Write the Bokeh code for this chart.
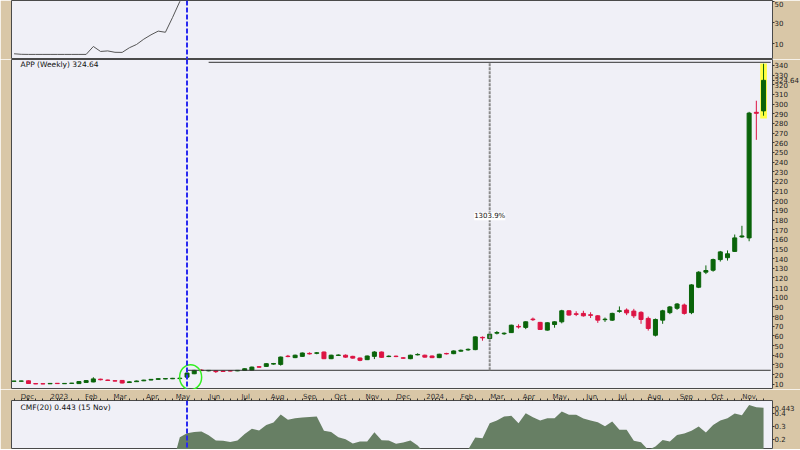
import pandas as pd
from bokeh.plotting import figure
from bokeh.layouts import column
from bokeh.models import Range1d, FixedTicker, Span, Label, LinearAxis
from bokeh.embed import file_html
from bokeh.resources import INLINE

# ---------------- data ----------------
FIRST_WEEK = "2022-11-18"
TICKER = "APP"
OPEN = [13.0, 13.1, 13.5, 10.6, 10.5, 10.4, 10.9, 10.5, 10.8, 10.6,
        11.8, 12.3, 15.2, 14.3, 13.6, 13.9, 11.7, 12.6, 13.5, 14.3,
        15.0, 15.4, 15.6, 15.8, 17.3, 20.8, 24.6, 23.8, 23.8, 23.6,
        24.0, 23.8, 24.3, 24.5, 28.1, 28.4, 30.8, 30.5, 39.0, 37.5,
        38.8, 41.9, 42.0, 43.3, 36.4, 39.8, 40.0, 38.8, 37.1, 35.4,
        38.8, 43.3, 38.6, 39.0, 37.3, 36.4, 40.4, 40.0, 39.2, 37.5,
        41.8, 41.6, 44.2, 45.5, 45.8, 58.5, 57.3, 62.8, 62.2, 63.4,
        69.8, 68.8, 77.4, 74.0, 66.0, 71.8, 74.6, 86.0, 82.9, 83.3,
        81.9, 80.8, 76.8, 76.3, 85.4, 86.8, 85.7, 84.4, 78.1, 60.7,
        76.3, 84.1, 88.6, 92.0, 84.1, 110.4, 126.0, 128.0, 139.0, 141.0,
        147.5, 162.5, 161.5, 291.5, 293.0]
HIGH = [13.4, 13.5, 13.9, 10.9, 10.8, 11.0, 11.2, 11.0, 11.3, 12.9,
        14.2, 17.2, 15.6, 14.7, 14.0, 14.3, 12.8, 13.7, 14.6, 15.4,
        16.0, 16.2, 16.5, 16.6, 22.0, 24.8, 25.3, 24.7, 24.3, 24.2,
        24.5, 24.7, 26.4, 28.2, 28.8, 31.6, 32.0, 38.6, 40.3, 40.6,
        42.8, 43.0, 43.3, 43.8, 40.5, 40.8, 40.8, 39.4, 37.6, 39.6,
        44.2, 43.8, 39.8, 39.6, 37.9, 40.5, 42.0, 40.6, 39.7, 41.5,
        42.5, 44.9, 45.9, 47.0, 59.5, 59.4, 62.3, 65.0, 63.6, 71.6,
        72.0, 75.1, 79.0, 74.5, 74.1, 75.1, 87.0, 86.5, 85.5, 86.0,
        84.5, 81.5, 79.0, 84.0, 90.5, 88.5, 88.0, 85.5, 80.0, 78.0,
        87.0, 91.0, 94.0, 93.5, 113.5, 127.0, 133.0, 140.0, 148.0, 148.5,
        165.0, 174.0, 292.0, 303.5, 341.8]
LOW = [12.8, 12.9, 10.4, 10.1, 10.0, 10.2, 10.4, 10.3, 10.5, 10.4,
       11.5, 12.0, 14.0, 13.5, 12.8, 10.9, 11.4, 12.3, 13.2, 14.0,
       14.7, 15.1, 15.3, 15.5, 16.8, 20.4, 23.7, 23.4, 21.6, 22.8,
       23.3, 23.5, 24.0, 24.2, 27.2, 28.0, 30.3, 29.2, 37.9, 37.0,
       38.4, 40.8, 41.0, 36.0, 36.0, 39.2, 37.4, 36.5, 33.8, 35.0,
       36.0, 37.3, 38.0, 38.0, 36.4, 35.9, 39.8, 37.6, 37.0, 37.0,
       40.8, 41.1, 43.6, 44.6, 45.2, 55.0, 56.8, 61.5, 61.0, 63.0,
       67.6, 67.0, 75.5, 66.2, 65.5, 68.5, 73.0, 81.0, 80.5, 80.0,
       78.5, 73.5, 74.5, 75.5, 84.0, 81.5, 78.5, 72.5, 65.5, 59.4,
       72.5, 82.5, 87.0, 82.0, 82.5, 109.5, 124.0, 126.5, 137.0, 138.0,
       147.0, 161.5, 158.0, 263.0, 288.0]
CLOSE = [13.2, 13.3, 10.7, 10.3, 10.3, 10.8, 10.6, 10.8, 11.1, 12.7,
         13.7, 15.5, 14.6, 13.9, 13.2, 11.2, 12.4, 13.3, 14.2, 15.0,
         15.7, 15.8, 16.1, 16.2, 21.5, 24.3, 24.1, 24.3, 23.0, 23.2,
         23.6, 24.3, 26.0, 27.7, 27.6, 31.2, 31.4, 38.1, 38.6, 40.0,
         42.3, 41.4, 42.5, 36.4, 40.0, 40.2, 38.0, 37.0, 34.7, 39.2,
         43.3, 37.8, 39.0, 38.6, 36.9, 40.0, 40.8, 38.0, 37.5, 41.0,
         41.4, 44.4, 45.1, 46.1, 59.0, 58.0, 61.8, 63.5, 62.8, 71.1,
         69.2, 74.6, 76.8, 66.7, 73.6, 74.6, 86.0, 81.6, 82.3, 80.8,
         81.3, 76.3, 77.3, 83.3, 86.0, 83.8, 80.8, 77.0, 67.7, 77.0,
         86.0, 90.0, 93.0, 83.3, 112.8, 126.0, 127.7, 139.0, 147.0, 145.0,
         161.5, 163.5, 290.7, 290.5, 324.64]
# upper (cut-off) indicator panel, first weeks only
TOP_LINE = [0.6, 0.1, 0.0, 0.0, 0.0, 0.0, 0.0, 0.0, 0.0, 0.0,
            0.0, 7.5, 2.8, 3.3, 2.0, 1.9, 6.3, 9.4, 14.4, 18.5,
            22.0, 20.9, 35.0, 50.0, 66.0]
CMF = [-0.12, -0.15, -0.18, -0.20, -0.17, -0.14, -0.10, -0.08, -0.05, -0.02,
       0.01, 0.04, 0.02, -0.01, -0.04, -0.06, -0.05, -0.03, -0.02, 0.00,
       0.02, 0.03, 0.01, 0.215, 0.246, 0.255, 0.259, 0.23, 0.19, 0.188,
       0.178, 0.19, 0.24, 0.28, 0.268, 0.31, 0.328, 0.39, 0.35, 0.362,
       0.368, 0.372, 0.375, 0.265, 0.255, 0.215, 0.20, 0.168, 0.182, 0.182,
       0.254, 0.192, 0.19, 0.165, 0.175, 0.19, 0.152, 0.09, 0.05, 0.03,
       0.02, 0.04, 0.07, 0.12, 0.213, 0.208, 0.323, 0.345, 0.375, 0.38,
       0.323, 0.40, 0.37, 0.344, 0.362, 0.362, 0.413, 0.388, 0.388, 0.36,
       0.345, 0.33, 0.30, 0.336, 0.272, 0.272, 0.188, 0.177, 0.118, 0.144,
       0.195, 0.182, 0.233, 0.245, 0.265, 0.298, 0.252, 0.31, 0.344, 0.362,
       0.398, 0.385, 0.464, 0.446, 0.443]
MONTH_LABELS = ["Dec", "2023", "Feb", "Mar", "Apr", "May", "Jun", "Jul", "Aug",
                "Sep", "Oct", "Nov", "Dec", "2024", "Feb", "Mar", "Apr", "May",
                "Jun", "Jul", "Aug", "Sep", "Oct", "Nov"]
PRICE_TICKS = list(range(10, 341, 10))
TOP_TICKS = [10, 30, 50]
CMF_TICKS = [0.1, 0.2, 0.3, 0.4]
MEASURE_LOW = 24.4
MEASURE_HIGH = 343.3
MEASURE_TEXT = "1303.9%"
EVENT_WEEK = 24      # blue dashed marker / circled candle
MEASURE_START_HI = 27
MEASURE_WEEK = 66
LAST_DATE_TEXT = "15 Nov"

# ---------------- derived ----------------
dates = pd.date_range(FIRST_WEEK, periods=len(CLOSE), freq="7D")
day0 = dates[0]
xs = [int((d - day0).days) for d in dates]
month_starts = pd.date_range("2022-12-01", periods=len(MONTH_LABELS), freq="MS")
month_x = [int((m - day0).days) for m in month_starts]
GREEN = "#0a640a"
RED = "#dc1443"
colors = [GREEN if c >= o else RED for o, c in zip(OPEN, CLOSE)]
body_top = [max(o, c) for o, c in zip(OPEN, CLOSE)]
body_bot = [min(o, c) for o, c in zip(OPEN, CLOSE)]
x_end = xs[-1] + 7

BG = "#f0f0f7"
BEIGE = "#d9c7a7"
OUT = "#4a4a4a"
FONT = "DejaVu Sans"
FW = 761
xr = Range1d(-2.5, 736.7)


def panel(frame_h, y0, y1, ticks, overrides=None):
    p = figure(frame_width=FW, frame_height=frame_h, x_range=xr, y_range=Range1d(y0, y1),
               output_backend="svg", toolbar_location=None, tools="",
               x_axis_location=None, y_axis_location="right",
               min_border_left=11, min_border_right=28, min_border_top=0, min_border_bottom=0,
               background_fill_color=BG, border_fill_color=BEIGE, outline_line_color=OUT)
    p.grid.visible = False
    ax = p.yaxis[0]
    ax.ticker = FixedTicker(ticks=ticks)
    if overrides:
        ax.major_label_overrides = overrides
    ax.axis_line_color = None
    ax.major_tick_in = 0
    ax.major_tick_out = 2
    ax.minor_tick_in = 0
    ax.minor_tick_out = 0
    ax.major_tick_line_color = "#333333"
    ax.major_label_text_font = FONT
    ax.major_label_text_font_size = "7px"
    ax.major_label_text_color = "#222222"
    ax.major_label_standoff = 0
    p.add_layout(Span(location=xs[EVENT_WEEK], dimension="height", line_color="#2a2af0",
                      line_dash="5 2", line_width=2))
    return p


# ---- top indicator panel (cut off) ----
TOP_H = 59
top = panel(TOP_H, -4.8, 50.9, TOP_TICKS)
top.line(xs[:len(TOP_LINE)], TOP_LINE, line_color="#555555", line_width=1)

# ---- price panel ----
PH = 330
last_close = CLOSE[-1]
price = panel(PH, 4.5, 346.2, PRICE_TICKS + [last_close], {last_close: f"{last_close:.2f}"})
price.vbar(x=xs[-1], top=HIGH[-1] + 0.3, bottom=LOW[-1] - 3, width=6.5,
           fill_color="#ffff40", line_color=None)
price.segment(x0=xs, y0=LOW, x1=xs, y1=HIGH, line_color=colors, line_width=1)
price.vbar(x=xs, top=body_top, bottom=body_bot, width=3.9, fill_color=colors,
           line_color=colors, line_width=1)
price.segment(x0=[xs[EVENT_WEEK], xs[MEASURE_START_HI]], y0=[MEASURE_LOW, MEASURE_HIGH],
              x1=[x_end, x_end], y1=[MEASURE_LOW, MEASURE_HIGH],
              line_color="#333333", line_width=1)
price.segment(x0=[xs[MEASURE_WEEK]], y0=[MEASURE_LOW], x1=[xs[MEASURE_WEEK]], y1=[MEASURE_HIGH],
              line_color="#8a8a8a", line_width=2, line_dash="3 1")
price.ellipse(x=[(xs[EVENT_WEEK] + xs[EVENT_WEEK + 1]) / 2], y=[OPEN[EVENT_WEEK]],
              width=22, height=25, width_units="screen", height_units="screen",
              fill_color=None, line_color="#33ee22", line_width=1.5)
price.add_layout(Label(x=xs[MEASURE_WEEK], y=(MEASURE_LOW + MEASURE_HIGH) / 2,
                       text=MEASURE_TEXT, text_align="center", text_baseline="middle",
                       text_font=FONT, text_font_size="7px", text_color="#111111",
                       background_fill_color="white"))
price.add_layout(Label(x=9, y=PH - 4.5, x_units="screen", y_units="screen",
                       text=f"{TICKER} (Weekly) {last_close:.2f}", text_baseline="middle",
                       text_font=FONT, text_font_size="7.5px", text_color="#111111"))

# ---- CMF panel ----
CH = 49
last_cmf = CMF[-1]
cmf = panel(CH, 0.121, 0.498, CMF_TICKS + [last_cmf], {last_cmf: f"{last_cmf:.3f}"})
cmf.varea(x=xs, y1=0, y2=CMF, fill_color="#677f64")
xa = LinearAxis(ticker=FixedTicker(ticks=month_x, minor_ticks=xs),
                major_label_overrides=dict(zip(month_x, MONTH_LABELS)))
xa.axis_line_color = None
xa.major_tick_in = 0
xa.major_tick_out = 2
xa.minor_tick_in = 0
xa.minor_tick_out = 2
xa.major_tick_line_color = "#333333"
xa.minor_tick_line_color = "#333333"
xa.major_label_standoff = -2
xa.major_label_text_font = FONT
xa.major_label_text_font_size = "7px"
xa.major_label_text_color = "#333333"
cmf.add_layout(xa, "above")
cmf.add_layout(Label(x=9, y=CH - 7, x_units="screen", y_units="screen",
                     text=f"CMF(20) {last_cmf:.3f} ({LAST_DATE_TEXT})", text_baseline="middle",
                     text_font=FONT, text_font_size="7.5px", text_color="#111111"))

layout = column(top, price, cmf, spacing=0)
open("out.html", "w").write(file_html(layout, INLINE))
